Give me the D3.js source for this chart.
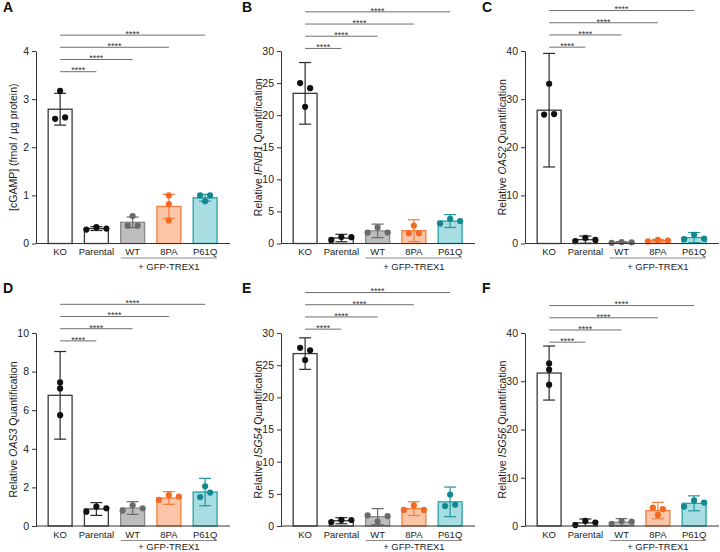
<!DOCTYPE html>
<html><head><meta charset="utf-8">
<script src="https://cdn.jsdelivr.net/npm/d3@7"></script>
<style>
body{margin:0;background:#fff}
svg{display:block;font-family:"Liberation Sans",Arial,Helvetica,sans-serif}
</style>
</head><body>
<svg id="chart" width="720" height="552"></svg>
<script>
// ---------- data ----------
const categories = ["KO", "Parental", "WT", "8PA", "P61Q"];
const groupLabel = "+ GFP-TREX1";
const panelLetters = ["A", "B", "C", "D", "E", "F"];
const yLabelParts = [
  [["[cGAMP] (fmol / µg protein)", false]],
  [["Relative ", false], ["IFNB1", true], [" Quantification", false]],
  [["Relative ", false], ["OAS2", true], [" Quantification", false]],
  [["Relative ", false], ["OAS3", true], [" Quantification", false]],
  [["Relative ", false], ["ISG54", true], [" Quantification", false]],
  [["Relative ", false], ["ISG56", true], [" Quantification", false]]
];
const yMax = [4, 30, 40, 10, 30, 40];
const yStep = [1, 5, 10, 2, 5, 10];
const sigLabel = "****";
const sigBase = [3.57, 30.4, 40.8, 9.59, 30.6, 38.1];

// bar means
const meansA = [2.79, 0.31, 0.44, 0.77, 0.95];
const meansB = [23.4, 0.85, 1.97, 2.0, 3.5];
const meansC = [27.7, 0.8, 0.23, 0.6, 1.23];
const meansD = [6.77, 0.88, 0.93, 1.45, 1.76];
const meansE = [26.8, 0.82, 1.45, 2.7, 3.75];
const meansF = [31.7, 0.65, 0.78, 3.2, 4.7];
// error bar half-widths
const errA = [0.33, 0.04, 0.11, 0.25, 0.07];
const errB = [4.8, 0.58, 1.05, 1.7, 1.0];
const errC = [11.8, 0.75, 0.13, 0.25, 1.05];
const errD = [2.27, 0.33, 0.33, 0.33, 0.71];
const errE = [2.45, 0.47, 1.25, 1.07, 2.3];
const errF = [5.6, 0.8, 0.75, 1.7, 1.55];
// replicate points
const pointsA = [[2.59, 3.17, 2.62], [0.29, 0.34, 0.31], [0.37, 0.57, 0.37], [1.0, 0.82, 0.48], [1.0, 0.88, 1.0]];
const pointsB = [[25.0, 21.3, 24.2], [0.55, 1.0, 0.98], [1.7, 2.5, 1.7], [1.6, 2.8, 1.6], [3.1, 3.85, 3.5]];
const pointsC = [[26.8, 33.2, 26.9], [0.5, 1.15, 0.75], [0.15, 0.3, 0.25], [0.45, 0.75, 0.6], [0.9, 1.8, 1.0]];
const pointsD = [[7.44, 7.13, 5.74], [0.74, 1.0, 0.92], [0.8, 1.07, 0.92], [1.35, 1.6, 1.52], [1.5, 2.06, 1.73]];
const pointsE = [[27.7, 25.8, 27.3], [0.62, 0.95, 0.93], [1.65, 0.7, 1.55], [2.5, 3.2, 2.5], [3.1, 4.9, 3.3]];
const pointsF = [[33.7, 32.4, 29.3], [0.2, 1.05, 0.7], [0.45, 1.0, 0.9], [3.8, 2.3, 3.5], [4.0, 5.3, 4.85]];

const allMeans = [meansA, meansB, meansC, meansD, meansE, meansF];
const allErr = [errA, errB, errC, errD, errE, errF];
const allPoints = [pointsA, pointsB, pointsC, pointsD, pointsE, pointsF];

// styles
const fillColors = ["#ffffff", "#ffffff", "#bdbdbd", "#fbc5a8", "#a8dde2"];
const strokeColors = ["#3a3a3a", "#3a3a3a", "#8a8a8a", "#f47c3c", "#25a0a8"];
const dotColors = ["#111111", "#111111", "#6a6a6a", "#f26a22", "#12878f"];
const errColors = ["#2a2a2a", "#2a2a2a", "#6a6a6a", "#f47c3c", "#1f959d"];

// ---------- layout ----------
const colAxisX = [36, 281, 525];
const colLetterX = [3, 242, 482];
const rows = [
  {y0: 243.5, yTop: 51, letterY: 12, groupDy: 26.5},
  {y0: 526, yTop: 333, letterY: 293, groupDy: 23.8}
];
const plotW = 194;
const dotR = 3.1;
const rowThresh = 5.5, spread = 10;
const FONT = "Liberation Sans, Arial, sans-serif";

const svg = d3.select("#chart");

panelLetters.forEach((letter, p) => {
  const col = p % 3, row = rows[Math.floor(p / 3)];
  const ax = colAxisX[col];
  const g = svg.append("g");

  const x = d3.scaleBand().domain(categories)
    .range([ax + 6, ax + 6 + 181.25]).paddingInner(0.34).paddingOuter(0.17);
  const y = d3.scaleLinear().domain([0, yMax[p]]).range([row.y0, row.yTop]);
  const bw = x.bandwidth();
  const cx = c => x(c) + bw / 2;

  // panel letter
  g.append("text").attr("x", colLetterX[col]).attr("y", row.letterY)
    .attr("font-size", 14).attr("font-weight", "bold").attr("fill", "#111").text(letter);

  // bars
  const means = allMeans[p], errs = allErr[p], pts = allPoints[p];
  categories.forEach((c, i) => {
    g.append("rect").attr("x", x(c)).attr("width", bw)
      .attr("y", y(means[i])).attr("height", y(0) - y(means[i]))
      .attr("fill", fillColors[i]).attr("stroke", strokeColors[i]).attr("stroke-width", 1.3);
  });

  // error bars
  categories.forEach((c, i) => {
    const lo = Math.max(0, means[i] - errs[i]), hi = means[i] + errs[i];
    const eg = g.append("g").attr("stroke", errColors[i]).attr("stroke-width", 1.2);
    eg.append("line").attr("x1", cx(c)).attr("x2", cx(c)).attr("y1", y(lo)).attr("y2", y(hi));
    eg.append("line").attr("x1", cx(c) - 6).attr("x2", cx(c) + 6).attr("y1", y(hi)).attr("y2", y(hi));
    if (means[i] - errs[i] > 0)
      eg.append("line").attr("x1", cx(c) - 6).attr("x2", cx(c) + 6).attr("y1", y(lo)).attr("y2", y(lo));
  });

  // points: chain close points into rows and spread horizontally
  categories.forEach((c, i) => {
    const vals = pts[i].map((v, k) => ({v, k, py: y(v)}));
    const sorted = vals.slice().sort((a, b) => a.py - b.py);
    const groups = [];
    sorted.forEach((d, j) => {
      if (j > 0 && d.py - sorted[j - 1].py < rowThresh) groups[groups.length - 1].push(d);
      else groups.push([d]);
    });
    groups.forEach(gr => {
      gr.sort((a, b) => a.k - b.k);
      gr.forEach((d, j) => { d.off = (j - (gr.length - 1) / 2) * spread; });
    });
    g.selectAll(null).data(vals).enter().append("circle")
      .attr("cx", d => cx(c) + d.off).attr("cy", d => d.py).attr("r", dotR)
      .attr("fill", dotColors[i]);
  });

  // y axis
  const yAxis = d3.axisLeft(y).tickValues(d3.range(0, yMax[p] + yStep[p] / 2, yStep[p]))
    .tickFormat(d3.format("d")).tickSize(4).tickSizeOuter(0).tickPadding(3);
  const ya = g.append("g").attr("transform", `translate(${ax},0)`).call(yAxis);
  ya.select(".domain").attr("stroke", "#333").attr("stroke-width", 1);
  ya.selectAll(".tick line").attr("stroke", "#333");
  ya.selectAll(".tick text").attr("font-size", 10.5).attr("fill", "#222").attr("font-family", FONT);

  // x axis baseline
  g.append("line").attr("x1", ax).attr("x2", ax + plotW).attr("y1", row.y0).attr("y2", row.y0)
    .attr("stroke", "#333").attr("stroke-width", 1);
  const xAxis = d3.axisBottom(x).tickSize(0).tickPadding(5);
  const xa = g.append("g").attr("transform", `translate(0,${row.y0})`).call(xAxis);
  xa.select(".domain").remove();
  xa.selectAll(".tick text").attr("font-size", 9.5).attr("fill", "#222").attr("font-family", FONT);

  // group line + label
  const gx1 = x("WT"), gx2 = x("P61Q") + bw;
  g.append("line").attr("x1", gx1).attr("x2", gx2).attr("y1", row.y0 + 14.5).attr("y2", row.y0 + 14.5)
    .attr("stroke", "#8a8a8a").attr("stroke-width", 1);
  g.append("text").attr("x", (gx1 + gx2) / 2).attr("y", row.y0 + row.groupDy).attr("text-anchor", "middle")
    .attr("font-size", 9.5).attr("fill", "#222").text(groupLabel);

  // y label
  const yl = g.append("text")
    .attr("transform", `translate(${ax - 23},${(row.y0 + row.yTop) / 2}) rotate(-90)`)
    .attr("text-anchor", "middle").attr("dy", "0.35em").attr("font-size", 10.5).attr("fill", "#222");
  yLabelParts[p].forEach(([t, it]) => {
    yl.append("tspan").attr("font-style", it ? "italic" : "normal").text(t);
  });

  // significance brackets
  categories.slice(1).forEach((c, j) => {
    const ly = y(sigBase[p]) - j * 12.2;
    g.append("line").attr("x1", cx(categories[0])).attr("x2", cx(c)).attr("y1", ly).attr("y2", ly)
      .attr("stroke", "#6f6f6f").attr("stroke-width", 1);
    g.append("text").attr("x", (cx(categories[0]) + cx(c)) / 2).attr("y", ly + 1.8)
      .attr("text-anchor", "middle").attr("font-size", 9).attr("fill", "#333").text(sigLabel);
  });
});
</script>
</body></html>
